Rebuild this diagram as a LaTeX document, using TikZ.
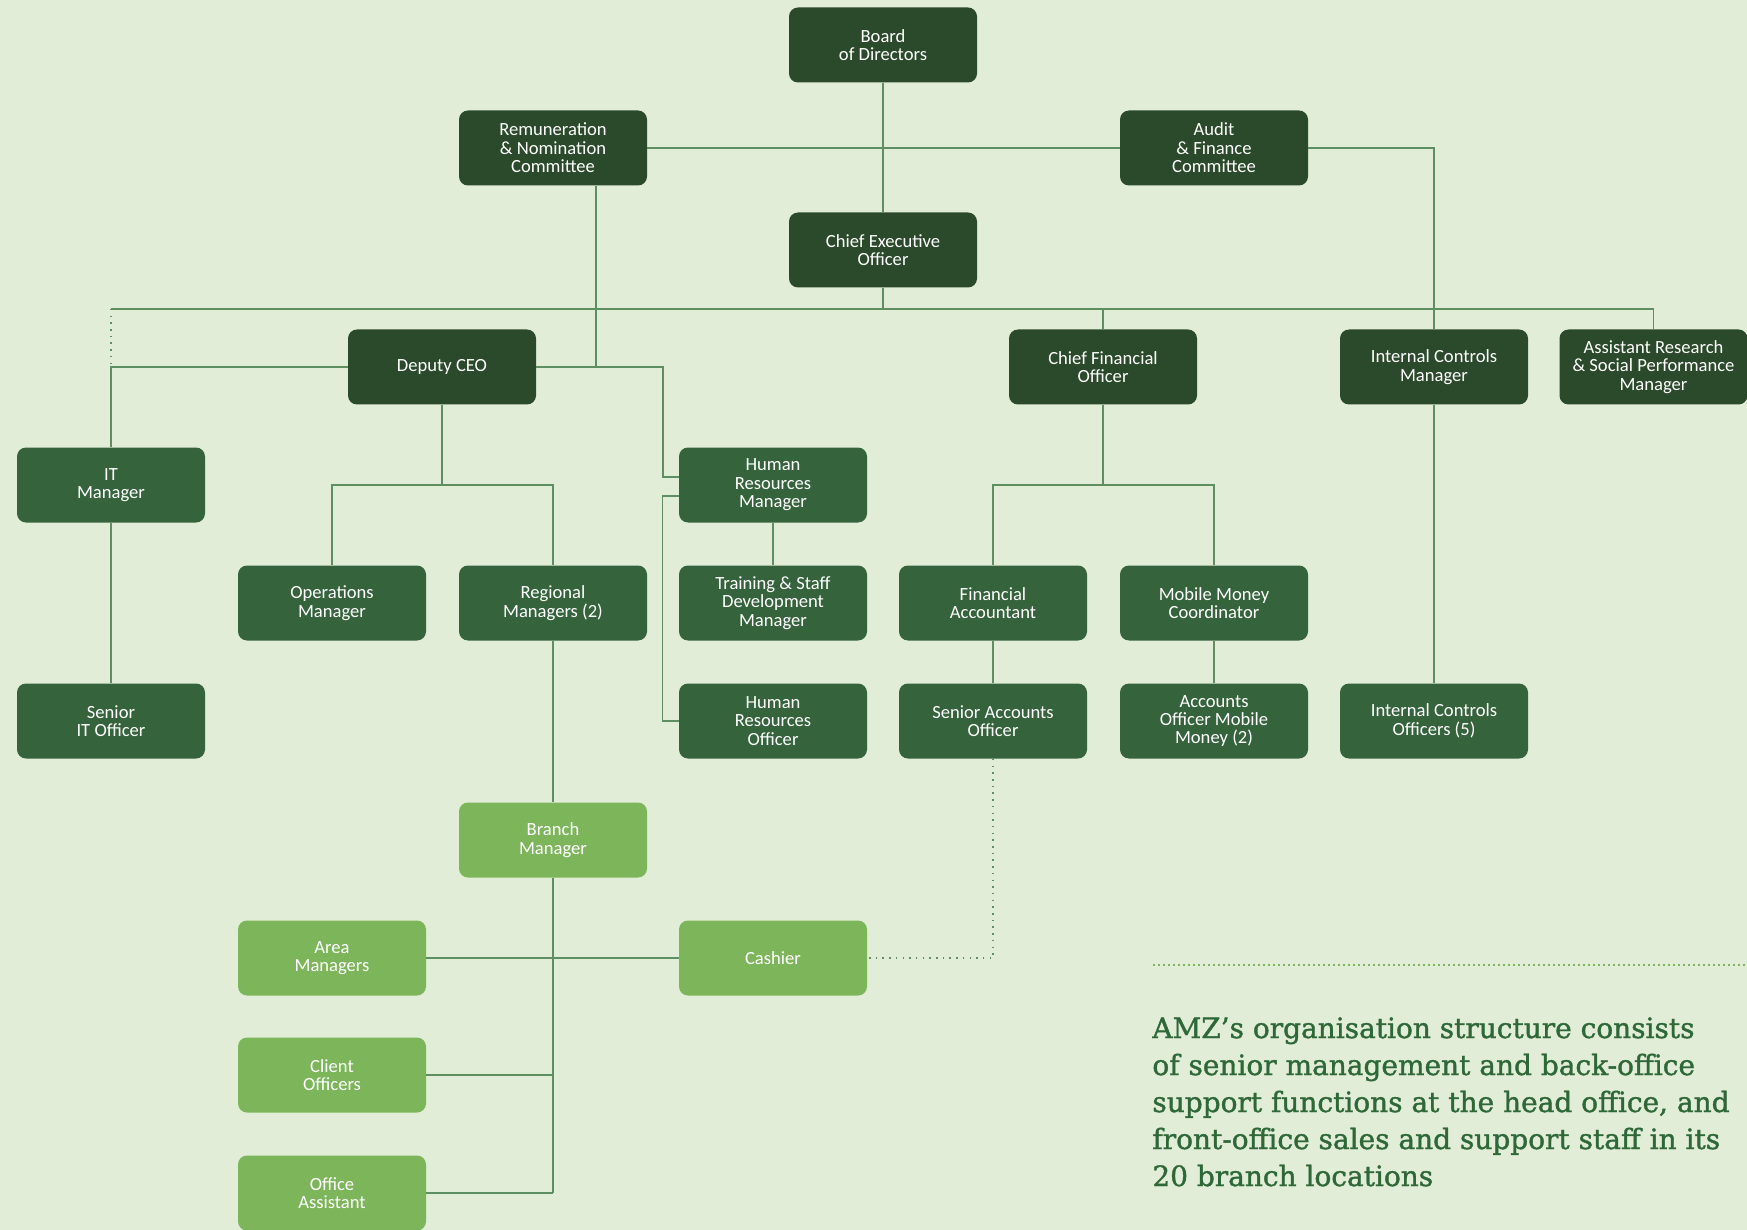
\documentclass[tikz,border=0pt]{standalone}
\usepackage{fontspec}
\setmainfont{Carlito}
\newfontfamily\capfont[FakeBold=1.3]{DejaVu Serif}
\usetikzlibrary{calc}
\definecolor{bgc}{HTML}{E1EDD6}
\definecolor{darkc}{HTML}{2B4A2B}
\definecolor{midc}{HTML}{35643C}
\definecolor{lightc}{HTML}{7DB65A}
\definecolor{linec}{HTML}{5E8F62}
\definecolor{captc}{HTML}{2E6838}
\begin{document}
\begin{tikzpicture}[x=0.5pt,y=-0.5pt,
  box/.style={rounded corners=4.5pt, minimum width=94pt, minimum height=37.5pt, inner sep=0pt,
    text=white, align=center, font=\fontsize{9.3}{9.2}\selectfont},
  topbox/.style={box, fill=darkc},
  subbox/.style={box, fill=midc},
  brbox/.style={box, fill=lightc},
  conn/.style={draw=linec, line width=0.75pt},
  dotconn/.style={draw=linec, line width=0.75pt, dash pattern=on 0.75pt off 2.6pt},
  captline/.style={draw=lightc, line width=0.9pt, dash pattern=on 0.9pt off 1.6pt}]
\fill[bgc] (0,0) rectangle (1747,1230);
\useasboundingbox (0,0) rectangle (1747,1230);

% nodes
\node[topbox] (board) at (883,45) {Board\\of Directors};
\node[topbox] (rem) at (553,148) {Remuneration\\\& Nomination\\Committee};
\node[topbox] (audit) at (1214,148) {Audit\\\& Finance\\Committee};
\node[topbox] (ceo) at (883,250) {Chief Executive\\Officer};
\node[topbox] (dceo) at (442,367) {Deputy CEO};
\node[topbox] (cfo) at (1103,367) {Chief Financial\\Officer};
\node[topbox] (icm) at (1434,367) {Internal Controls\\Manager};
\node[topbox] (arsp) at (1653.5,367) {Assistant Research\\\& Social Performance\\Manager};

\node[subbox] (it) at (111,485) {IT\\Manager};
\node[subbox] (hrm) at (773,485) {Human\\Resources\\Manager};
\node[subbox] (ops) at (332,603) {Operations\\Manager};
\node[subbox] (reg) at (553,603) {Regional\\Managers (2)};
\node[subbox] (trn) at (773,603) {Training \& Staff\\Development\\Manager};
\node[subbox] (fa) at (993,603) {Financial\\Accountant};
\node[subbox] (mm) at (1214,603) {Mobile Money\\Coordinator};
\node[subbox] (sit) at (111,721) {Senior\\IT Officer};
\node[subbox] (hro) at (773,721) {Human\\Resources\\Officer};
\node[subbox] (sao) at (993,721) {Senior Accounts\\Officer};
\node[subbox] (aomm) at (1214,721) {Accounts\\Officer Mobile\\Money (2)};
\node[subbox] (ico) at (1434,721) {Internal Controls\\Officers (5)};

\node[brbox] (bm) at (553,840) {Branch\\Manager};
\node[brbox] (area) at (332,958) {Area\\Managers};
\node[brbox] (cash) at (773,958) {Cashier};
\node[brbox] (client) at (332,1075) {Client\\Officers};
\node[brbox] (office) at (332,1193) {Office\\Assistant};

% connectors
\coordinate (busL) at (111,309);
\coordinate (busR) at (1653.5,309);
\draw[conn] (board) -- (ceo);
\draw[conn] (rem.east) -- (audit.west);
\draw[conn] (audit.east) -| (icm.north);
\draw[conn] (busL) -- (busR);
\draw[conn] (ceo.south) -- (ceo |- busL);
\draw[conn] (cfo.north) -- (cfo |- busL);
\draw[conn] (arsp.north) -- (busR);
\draw[dotconn] (busL) -- (busL |- dceo);
\draw[conn] (dceo.west) -| (it.north);
\coordinate (remd) at ($(rem.south)+(43,0)$);
\draw[conn] (remd) -- (remd |- dceo);
\coordinate (hrj) at (663,367);
\draw[conn] (dceo.east) -- (hrj) |- ($(hrm.west)+(0,-8)$);
\draw[conn] ($(hrm.west)+(0,11)$) -- ++(-16,0) |- (hro.west);
\draw[conn] (hrm) -- (trn);
\draw[conn] (it) -- (sit);
\draw[conn] (dceo.south) -- (dceo |- it);
\draw[conn] (ops.north) -- (ops |- it) -- (reg |- it) -- (reg.north);
\draw[conn] (cfo.south) -- (cfo |- it);
\draw[conn] (fa.north) -- (fa |- it) -- (mm |- it) -- (mm.north);
\draw[conn] (fa) -- (sao);
\draw[conn] (mm) -- (aomm);
\draw[conn] (icm) -- (ico);
\draw[conn] (reg) -- (bm);
\draw[conn] (bm.south) -- (bm |- office);
\draw[conn] (area.east) -- (cash.west);
\draw[conn] (client.east) -- (bm |- client);
\draw[conn] (office.east) -- (bm |- office);
\draw[dotconn] (sao.south) |- (cash.east);

% caption
\coordinate (capL) at (1153,965);
\coordinate (capR) at (1747,965);
\draw[captline] (capL) -- (capR);
\node[anchor=north west, inner sep=0pt, align=left, text=captc,
  font=\capfont\fontsize{14}{18.5}\selectfont] (cap) at (1152,1017)
  {AMZ’s organisation structure consists\\
   of senior management and back-office\\
   support functions at the head office, and\\
   front-office sales and support staff in its\\
   20 branch locations};
\end{tikzpicture}
\end{document}
